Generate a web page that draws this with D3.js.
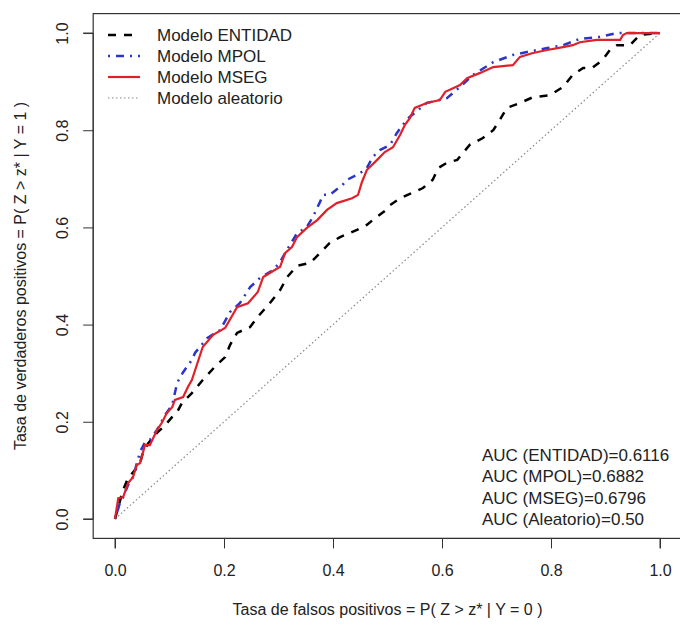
<!DOCTYPE html>
<html>
<head>
<meta charset="utf-8">
<script src="https://cdn.jsdelivr.net/npm/d3@7"></script>
<style>
  body { margin: 0; background: #fff; }
  svg text { font-family: "Liberation Sans", Arial, sans-serif; fill: #222; }
</style>
</head>
<body>
<script>
// ROC curves (false positive rate, true positive rate)
var entidadFpr = [0, 0.006, 0.015, 0.024, 0.037, 0.046, 0.051, 0.061, 0.077, 0.092, 0.105, 0.114, 0.123, 0.141, 0.161, 0.183, 0.202, 0.211, 0.224, 0.248, 0.262, 0.284, 0.303, 0.316, 0.334, 0.358, 0.376, 0.394, 0.413, 0.444, 0.462, 0.477, 0.495, 0.505, 0.523, 0.541, 0.565, 0.583, 0.593, 0.609, 0.628, 0.651, 0.675, 0.694, 0.706, 0.719, 0.743, 0.767, 0.798, 0.822, 0.840, 0.859, 0.875, 0.894, 0.908, 0.921, 0.945, 0.963, 1]
var entidadTpr = [0, 0.025, 0.060, 0.084, 0.101, 0.115, 0.136, 0.156, 0.177, 0.193, 0.210, 0.220, 0.239, 0.259, 0.286, 0.313, 0.333, 0.358, 0.383, 0.395, 0.416, 0.444, 0.471, 0.498, 0.521, 0.527, 0.547, 0.568, 0.580, 0.595, 0.605, 0.619, 0.634, 0.646, 0.660, 0.669, 0.681, 0.698, 0.722, 0.733, 0.739, 0.770, 0.784, 0.800, 0.821, 0.846, 0.856, 0.868, 0.872, 0.889, 0.914, 0.928, 0.928, 0.944, 0.965, 0.975, 0.975, 0.996, 1]

var mpolFpr = [0, 0.004, 0.009, 0.015, 0.024, 0.033, 0.046, 0.055, 0.064, 0.077, 0.092, 0.105, 0.114, 0.125, 0.141, 0.147, 0.169, 0.193, 0.211, 0.229, 0.248, 0.266, 0.290, 0.303, 0.312, 0.334, 0.352, 0.363, 0.376, 0.382, 0.394, 0.417, 0.426, 0.450, 0.462, 0.473, 0.486, 0.505, 0.517, 0.536, 0.572, 0.609, 0.633, 0.657, 0.694, 0.730, 0.756, 0.793, 0.822, 0.853, 0.890, 0.921, 1]
var mpolTpr = [0, 0.014, 0.033, 0.045, 0.070, 0.086, 0.138, 0.158, 0.163, 0.183, 0.214, 0.235, 0.280, 0.302, 0.327, 0.342, 0.372, 0.389, 0.426, 0.444, 0.477, 0.496, 0.512, 0.529, 0.547, 0.588, 0.601, 0.621, 0.652, 0.667, 0.667, 0.687, 0.698, 0.712, 0.722, 0.745, 0.759, 0.770, 0.794, 0.823, 0.856, 0.866, 0.889, 0.914, 0.940, 0.955, 0.961, 0.969, 0.975, 0.988, 0.992, 1, 1]

var msegFpr = [0, 0.006, 0.015, 0.024, 0.033, 0.040, 0.046, 0.055, 0.064, 0.077, 0.086, 0.095, 0.105, 0.110, 0.125, 0.134, 0.141, 0.161, 0.180, 0.202, 0.224, 0.244, 0.262, 0.272, 0.303, 0.312, 0.325, 0.334, 0.352, 0.371, 0.389, 0.407, 0.435, 0.446, 0.453, 0.462, 0.481, 0.495, 0.510, 0.523, 0.532, 0.541, 0.550, 0.572, 0.596, 0.606, 0.633, 0.646, 0.670, 0.694, 0.730, 0.743, 0.767, 0.793, 0.822, 0.840, 0.853, 0.884, 0.927, 0.932, 0.939, 1]
var msegTpr = [0, 0.043, 0.045, 0.074, 0.086, 0.111, 0.115, 0.152, 0.152, 0.183, 0.198, 0.218, 0.230, 0.245, 0.251, 0.272, 0.286, 0.354, 0.379, 0.393, 0.436, 0.444, 0.467, 0.498, 0.519, 0.547, 0.560, 0.580, 0.599, 0.615, 0.636, 0.650, 0.660, 0.667, 0.693, 0.718, 0.739, 0.755, 0.765, 0.790, 0.811, 0.825, 0.846, 0.856, 0.862, 0.879, 0.893, 0.907, 0.918, 0.930, 0.934, 0.951, 0.959, 0.965, 0.971, 0.975, 0.981, 0.986, 0.986, 0.996, 1, 1]

var randomFpr = [0, 1]
var randomTpr = [0, 1]

var legendLabels = ['Modelo ENTIDAD', 'Modelo MPOL', 'Modelo MSEG', 'Modelo aleatorio']
var aucLabels = ['AUC (ENTIDAD)=0.6116', 'AUC (MPOL)=0.6882', 'AUC (MSEG)=0.6796', 'AUC (Aleatorio)=0.50']
var tickValues = [0, 0.2, 0.4, 0.6, 0.8, 1.0]

var width = 680, height = 625

var svg = d3.select('body').append('svg')
    .attr('width', width)
    .attr('height', height)

// R style: 4% padding around data range
var x = d3.scaleLinear().domain([-0.04, 1.04]).range([93.2, 681.8])
var y = d3.scaleLinear().domain([-0.04, 1.04]).range([538.4, 13.6])

// box
svg.append('rect')
  .attr('x', x(-0.04)).attr('y', y(1.04))
  .attr('width', x(1.04) - x(-0.04))
  .attr('height', y(-0.04) - y(1.04))
  .attr('fill', 'none')
  .attr('stroke', '#333')
  .attr('stroke-width', 1.2)

// axes
var xAxis = d3.axisBottom(x).tickValues(tickValues).tickFormat(d3.format('.1f')).tickSize(10).tickPadding(16)
var gx = svg.append('g').attr('transform', 'translate(0,' + y(-0.04) + ')').call(xAxis)
gx.select('.domain').attr('stroke', '#333').attr('d', 'M' + x(0) + ',10V0H' + x(1) + 'V10')
gx.selectAll('line').attr('stroke', '#333')
gx.selectAll('text').attr('font-size', 16).attr('fill', '#222').attr('font-family', '"Liberation Sans", Arial, sans-serif')

var yAxis = d3.axisLeft(y).tickValues(tickValues).tickFormat(d3.format('.1f')).tickSize(10)
var gy = svg.append('g').attr('transform', 'translate(' + x(-0.04) + ',0)').call(yAxis)
gy.select('.domain').attr('stroke', '#333').attr('d', 'M-10,' + y(0) + 'H0V' + y(1) + 'H-10')
gy.selectAll('line').attr('stroke', '#333')
gy.selectAll('text')
  .attr('font-size', 16).attr('fill', '#222').attr('font-family', '"Liberation Sans", Arial, sans-serif')
  .attr('text-anchor', 'middle')
  .attr('dy', null)
  .attr('x', null)
  .attr('transform', function(d) { return 'translate(-31,0) rotate(-90)' })
  .attr('dominant-baseline', 'central')

// axis titles
svg.append('text')
  .attr('x', (x(0) + x(1)) / 2)
  .attr('y', 615)
  .attr('text-anchor', 'middle')
  .attr('font-size', 16)
  .text('Tasa de falsos positivos = P( Z > z* | Y = 0 )')

svg.append('text')
  .attr('transform', 'translate(20,' + (y(0) + y(1)) / 2 + ') rotate(-90)')
  .attr('text-anchor', 'middle')
  .attr('dominant-baseline', 'central')
  .attr('font-size', 16)
  .text('Tasa de verdaderos positivos = P( Z > z* | Y = 1 )')

var line = d3.line()
  .x(function(d) { return x(d[0]) })
  .y(function(d) { return y(d[1]) })

var series = [
  {fpr: randomFpr, tpr: randomTpr, color: '#888', width: 1.2, dash: '1.5,2.5'},
  {fpr: entidadFpr, tpr: entidadTpr, color: '#000', width: 2.5, dash: '8,8'},
  {fpr: mpolFpr, tpr: mpolTpr, color: '#2b35c8', width: 2.5, dash: '2,6,8,6'},
  {fpr: msegFpr, tpr: msegTpr, color: '#e0202a', width: 2.2, dash: null}
]

series.forEach(function(s) {
  svg.append('path')
    .datum(d3.zip(s.fpr, s.tpr))
    .attr('d', line)
    .attr('fill', 'none')
    .attr('stroke', s.color)
    .attr('stroke-width', s.width)
    .attr('stroke-dasharray', s.dash)
})

// legend (no box)
var legendStyles = [series[1], series[2], series[3], series[0]]
var lg = svg.append('g')
legendLabels.forEach(function(label, i) {
  var ly = 35 + i * 21
  var st = legendStyles[i]
  lg.append('line')
    .attr('x1', 108).attr('x2', 140)
    .attr('y1', ly).attr('y2', ly)
    .attr('stroke', st.color)
    .attr('stroke-width', st.width)
    .attr('stroke-dasharray', st.dash)
  lg.append('text')
    .attr('x', 157).attr('y', ly)
    .attr('dominant-baseline', 'central')
    .attr('font-size', 17)
    .text(label)
})

// AUC notes
aucLabels.forEach(function(label, i) {
  svg.append('text')
    .attr('x', 482).attr('y', 455 + i * 21.5)
    .attr('dominant-baseline', 'central')
    .attr('font-size', 17)
    .text(label)
})
</script>
</body>
</html>
